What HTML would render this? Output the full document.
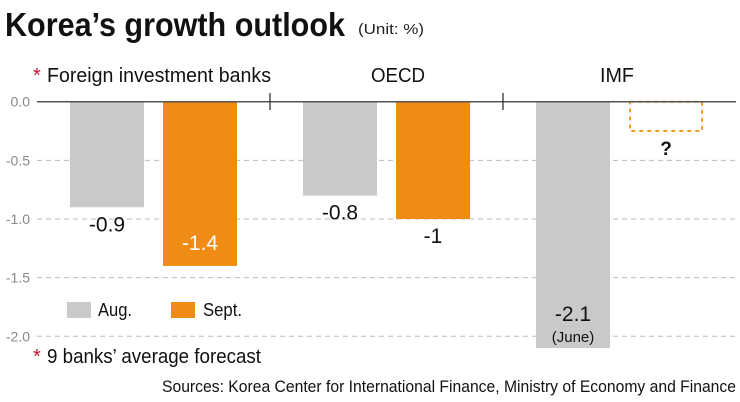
<!DOCTYPE html>
<html><head><meta charset="utf-8"><style>
html,body{margin:0;padding:0;background:#fff;}
svg{display:block;font-family:"Liberation Sans",sans-serif;}
</style></head><body>
<svg id="chart" width="740" height="402" viewBox="0 0 740 402">
  <text x="5" y="36" font-size="33" font-weight="bold" fill="#111" textLength="340" lengthAdjust="spacingAndGlyphs">Korea’s growth outlook</text>
  <text x="358" y="34" font-size="15" fill="#222" textLength="66" lengthAdjust="spacingAndGlyphs">(Unit: %)</text>
  <g id="grid"></g>
  <g id="bars"></g>
  <line x1="37" x2="736" y1="101.7" y2="101.7" stroke="#555" stroke-width="1.5"/>
  <line x1="270" x2="270" y1="93" y2="110" stroke="#333" stroke-width="1.3"/>
  <line x1="503" x2="503" y1="93" y2="110" stroke="#333" stroke-width="1.3"/>
  <g id="ylabels"></g>
  <g id="labels"></g>
  <text x="33" y="82" font-size="20" fill="#c8102e">*</text>
  <text x="47" y="82" font-size="20" fill="#111" textLength="224" lengthAdjust="spacingAndGlyphs">Foreign investment banks</text>
  <text x="371" y="82" font-size="20" fill="#111" textLength="54" lengthAdjust="spacingAndGlyphs">OECD</text>
  <text x="600" y="82" font-size="20" fill="#111" textLength="34" lengthAdjust="spacingAndGlyphs">IMF</text>
  <rect x="67" y="302" width="24" height="16" fill="#c9c9c9"/>
  <text x="98" y="316" font-size="18" fill="#111" textLength="34" lengthAdjust="spacingAndGlyphs">Aug.</text>
  <rect x="171" y="302" width="24" height="16" fill="#f08c13"/>
  <text x="203" y="316" font-size="18" fill="#111" textLength="39" lengthAdjust="spacingAndGlyphs">Sept.</text>
  <text x="33" y="363" font-size="20" fill="#c8102e">*</text>
  <text x="47" y="363" font-size="20" fill="#111" textLength="214" lengthAdjust="spacingAndGlyphs">9 banks’ average forecast</text>
  <text x="736" y="392" font-size="17" fill="#111" text-anchor="end" textLength="574" lengthAdjust="spacingAndGlyphs">Sources: Korea Center for International Finance, Ministry of Economy and Finance</text>
</svg>
<script>
const categories = ["Foreign investment banks", "OECD", "IMF"];
const augValues = [-0.9, -0.8, -2.1];
const septValues = [-1.4, -1.0, -0.25];
const augLabels = ["-0.9", "-0.8", "-2.1"];
const septLabels = ["-1.4", "-1", "?"];
const yTicks = [0, -0.5, -1.0, -1.5, -2.0];
const yTickLabels = ["0.0", "-0.5", "-1.0", "-1.5", "-2.0"];

const NS = "http://www.w3.org/2000/svg";
const y0 = 101.7, unit = 117.3;
function yScale(v){ return y0 - v * unit; }
const groupStart = 70, groupStep = 233, barW = 74, septOff = 93;
function xAug(i){ return groupStart + i * groupStep; }
function xSept(i){ return groupStart + i * groupStep + septOff; }
function mk(tag, attrs, parent){
  const e = document.createElementNS(NS, tag);
  for (const k in attrs) e.setAttribute(k, attrs[k]);
  parent.appendChild(e);
  return e;
}
const grid = document.getElementById('grid');
const yl = document.getElementById('ylabels');
yTicks.forEach((t, i) => {
  if (t !== 0) {
    const l = mk('line', {x1:37, x2:736, y1:yScale(t), y2:yScale(t), stroke:'#bbb', 'stroke-width':1, 'stroke-dasharray':'5,4'}, grid);
    
    
  }
  const tx = mk('text', {x:30, y:yScale(t)+5, 'font-size':14, fill:'#888', 'text-anchor':'end'}, yl);
  tx.textContent = yTickLabels[i];
  
  
});
const bars = document.getElementById('bars');
const labels = document.getElementById('labels');
categories.forEach((c, i) => {
  const a = mk('rect', {x:xAug(i), y:y0, width:barW, height:yScale(augValues[i]) - y0, fill:'#c9c9c9'}, bars);
  
  
  const last = i === categories.length - 1;
  const s = mk('rect', last ?
    {x:xSept(i)+1, y:y0, width:barW-2, height:yScale(septValues[i]) - y0, fill:'none', stroke:'#f0a030', 'stroke-width':2, 'stroke-dasharray':'4,4'} :
    {x:xSept(i), y:y0, width:barW, height:yScale(septValues[i]) - y0, fill:'#f08c13'}, bars);
  
  
  // aug label
  let ay, acol = '#111';
  if (last) ay = yScale(augValues[i]) - 27; else ay = yScale(augValues[i]) + 24;
  const at = mk('text', {x:xAug(i)+barW/2, y:ay, 'font-size':21, fill:acol, 'text-anchor':'middle'}, labels);
  at.textContent = augLabels[i];
  
  
  if (last) {
    const j = mk('text', {x:xAug(i)+barW/2, y:ay+21, 'font-size':15, fill:'#111', 'text-anchor':'middle'}, labels);
    j.textContent = '(June)';
    
    
  }
  let sy, scol = '#111', fs = 21;
  if (i === 0) { sy = yScale(septValues[i]) - 16; scol = '#fff'; }
  else if (last) { sy = yScale(septValues[i]) + 24; fs = 19; }
  else sy = yScale(septValues[i]) + 24;
  const st = mk('text', {x:xSept(i)+barW/2, y:sy, 'font-size':fs, fill:scol, 'text-anchor':'middle', 'font-weight': last ? 'bold' : 'normal'}, labels);
  st.textContent = septLabels[i];
  
  
});
</script>
</body></html>
